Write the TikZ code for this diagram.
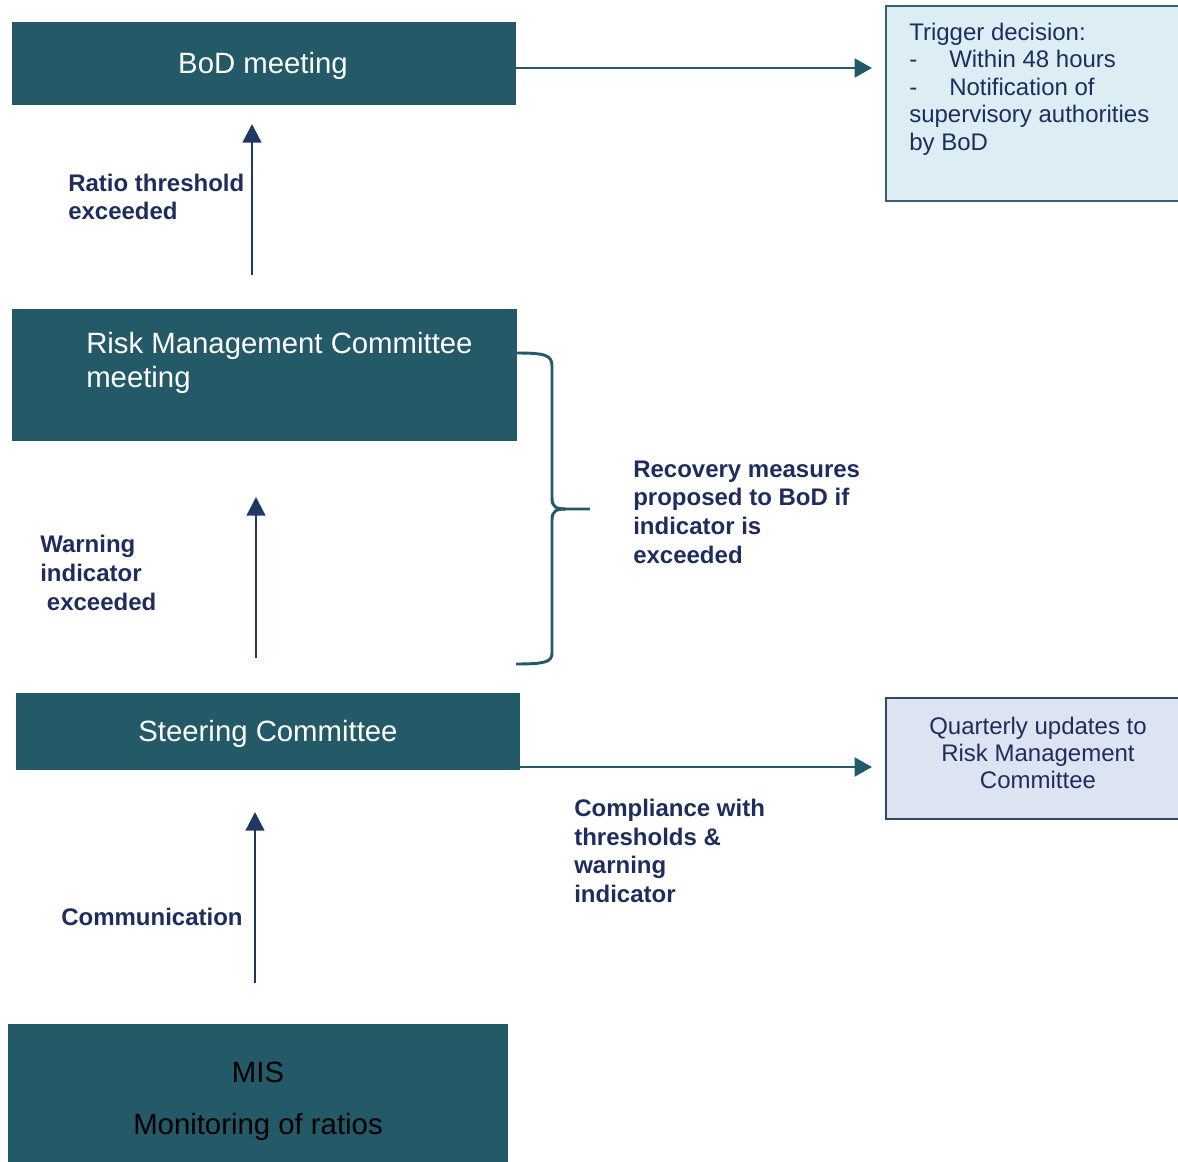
\documentclass[tikz,border=0pt]{standalone}
\usepackage{fontspec}
\setmainfont{Liberation Sans}
\usetikzlibrary{arrows.meta}
\definecolor{teal}{RGB}{36,89,104}
\definecolor{navyarrow}{RGB}{31,56,100}
\definecolor{navytext}{RGB}{31,45,94}
\definecolor{trigfill}{RGB}{220,238,244}
\definecolor{trigdraw}{RGB}{60,95,110}
\definecolor{quartfill}{RGB}{220,228,242}
\definecolor{quartdraw}{RGB}{46,74,96}
\tikzset{
  darkbox/.style={rectangle, fill=teal, draw=none, inner sep=0pt, text=white,
    font=\fontsize{22}{25.5}\selectfont},
  lightbox/.style={rectangle, line width=1.5pt, inner sep=0pt, text=navytext,
    font=\fontsize{18}{20.5}\selectfont},
  lbl/.style={inner sep=0pt, text=navytext, align=left, anchor=west,
    font=\fontsize{18}{21.5}\selectfont\bfseries},
  varrow/.style={draw=navyarrow, line width=1.8pt, -{Triangle[length=14pt,width=14pt]}},
  harrow/.style={draw=teal, line width=2.2pt, -{Triangle[length=13pt,width=14pt]}},
  brace/.style={draw=teal, line width=2.2pt}
}
\begin{document}
\begin{tikzpicture}[x=0.75pt,y=-0.75pt]
\useasboundingbox (0,0) rectangle (1178,1162);
% main boxes
\node (bod) [darkbox, minimum width=378pt, minimum height=62.25pt] at (264,63.5) {};
\node (bodtext) [inner sep=0pt, text=white, font=\fontsize{22}{25.5}\selectfont] at (263,66) {BoD meeting};
\node (rmc) [darkbox, minimum width=378.75pt, minimum height=99pt] at (264.5,375) {};
\node (rmctext) [inner sep=0pt, anchor=west, align=left, text=white,
  font=\fontsize{22}{25.5}\selectfont] at (86,363) {Risk Management Committee\\meeting};
\node (steer) [darkbox, minimum width=378pt, minimum height=57.75pt] at (268,731.5) {};
\node (steertext) [inner sep=0pt, text=white, font=\fontsize{22}{25.5}\selectfont] at (268,734) {Steering Committee};
\node (mis) [darkbox, minimum width=375pt, minimum height=105.75pt] at (258,1094.5) {};
\node (mistext) [inner sep=0pt, align=center, text=black,
  font=\fontsize{22}{39}\selectfont] at (258,1101) {MIS\\Monitoring of ratios};
% right boxes
\node (trig) [lightbox, fill=trigfill, draw=trigdraw, minimum width=220.5pt, minimum height=146.25pt] at (1033,103.5) {};
\node (trigtext) [inner sep=0pt, anchor=west, align=left, text=navytext,
  font=\fontsize{18}{20.6}\selectfont] at (909,89) {Trigger decision:\\\makebox[30pt][l]{-}Within 48 hours\\\makebox[30pt][l]{-}Notification of\\supervisory authorities\\by BoD};
\node (quart) [lightbox, fill=quartfill, draw=quartdraw, minimum width=220.5pt, minimum height=90.75pt] at (1033,758.5) {};
\node (quarttext) [inner sep=0pt, align=center, text=navytext,
  font=\fontsize{18}{20.3}\selectfont] at (1038,753) {Quarterly updates to\\Risk Management\\Committee};
% labels
\node (l1) [lbl] at (68,197) {Ratio threshold\\exceeded};
\node (l2) [lbl] at (40,573) {Warning\\indicator\\\hspace{5pt}exceeded};
\node (l3) [lbl] at (61,917) {Communication};
\node (l4) [lbl] at (633,512) {Recovery measures\\proposed to BoD if\\indicator is\\exceeded};
\node (l5) [lbl] at (574,851) {Compliance with\\thresholds \&\\warning\\indicator};
% vertical arrows
\coordinate (a1s) at (252,275); \coordinate (a1e) at (252,124);
\coordinate (a2s) at (256,658); \coordinate (a2e) at (256,497);
\coordinate (a3s) at (255,983); \coordinate (a3e) at (255,812);
\draw[varrow] (a1s) -- (a1e);
\draw[varrow] (a2s) -- (a2e);
\draw[varrow] (a3s) -- (a3e);
% horizontal arrows
\draw[harrow, shorten >=9.75pt] (bod.east |- 0,68) -- (trig.west |- 0,68);
\draw[harrow, shorten >=9.75pt] (steer.east |- 0,767) -- (quart.west |- 0,767);
% brace
\coordinate (btop) at (516,353);
\coordinate (bbot) at (516,664);
\coordinate (btip) at (590,509);
\draw[brace] (btop) .. controls (545,353) and (552,355) .. (552,366) -- (552,498)
  .. controls (552,507) and (556,509) .. (566,509) -- (btip);
\draw[brace] (566,509) .. controls (556,509) and (552,511) .. (552,520) -- (552,653)
  .. controls (552,662) and (545,664) .. (bbot);
\end{tikzpicture}
\end{document}
